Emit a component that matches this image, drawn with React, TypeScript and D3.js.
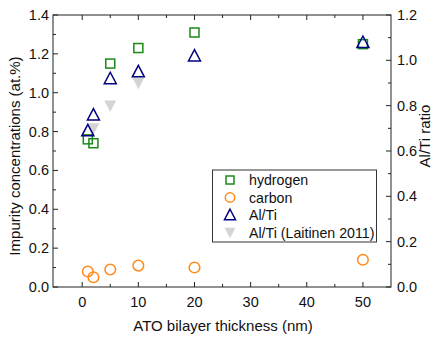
import * as d3 from "d3";

// ---- data ----
const hydrogenX = [1, 2, 5, 10, 20, 50];
const hydrogenY = [0.76, 0.74, 1.15, 1.23, 1.31, 1.25];

const carbonX = [1, 2, 5, 10, 20, 50];
const carbonY = [0.08, 0.05, 0.09, 0.11, 0.1, 0.14];

const alTiX = [1, 2, 5, 10, 20, 50];
const alTiY = [0.69, 0.76, 0.92, 0.95, 1.02, 1.08];

const laitinenX = [2, 5, 10];
const laitinenY = [0.7, 0.8, 0.9];

const xTicks = [0, 10, 20, 30, 40, 50];
const yLeftTicks = [0, 0.2, 0.4, 0.6, 0.8, 1.0, 1.2, 1.4];
const yRightTicks = [0, 0.2, 0.4, 0.6, 0.8, 1.0, 1.2];

const W = 436;
const H = 340;
const m = { left: 53, right: 45, top: 15, bottom: 53 };
const FONT = "Liberation Sans, Arial, sans-serif";

const C_H = "#1a8a1a";
const C_C = "#ff8a1a";
const C_A = "#000080";
const C_L = "#d4d4d4";

export default function App() {
  const x = d3.scaleLinear().domain([-5.2, 55]).range([m.left, W - m.right]);
  const yL = d3.scaleLinear().domain([0, 1.4]).range([H - m.bottom, m.top]);
  const yR = d3.scaleLinear().domain([0, 1.2]).range([H - m.bottom, m.top]);

  const x0 = m.left;
  const x1 = W - m.right;
  const y0 = H - m.bottom;
  const y1 = m.top;
  const axisColor = "#222";

  const xMinor = d3.range(5, 55, 10);
  const yLMinor = d3.range(0.1, 1.4, 0.2);
  const yRMinor = d3.range(0.1, 1.2, 0.2);

  const sq = 9;
  const tri = (cx: number, cy: number, s: number, up: boolean) => {
    const h = s * 0.866;
    return up
      ? `M${cx},${cy - h / 2 - 1}L${cx + s / 2},${cy + h / 2}L${cx - s / 2},${cy + h / 2}Z`
      : `M${cx},${cy + h / 2 + 1}L${cx + s / 2},${cy - h / 2}L${cx - s / 2},${cy - h / 2}Z`;
  };

  const legX = 230;
  const legTextX = 249;
  const legY = [180, 197.5, 215, 232.5];

  return (
    <div style={{ position: "absolute", left: 0, top: 0 }}>
      <svg width={W} height={H} style={{ display: "block", background: "#fff" }} fontFamily={FONT}>
        {/* frame */}
        <rect x={x0} y={y1} width={x1 - x0} height={y0 - y1} fill="none" stroke={axisColor} strokeWidth={1} />

        {/* x ticks bottom & top */}
        {xTicks.map((t) => (
          <g key={"xt" + t}>
            <line x1={x(t)} x2={x(t)} y1={y0} y2={y0 - 5} stroke={axisColor} />
            <line x1={x(t)} x2={x(t)} y1={y1} y2={y1 + 5} stroke={axisColor} />
            <text x={x(t)} y={y0 + 20} textAnchor="middle" fontSize={14.5} fill="#111">
              {t}
            </text>
          </g>
        ))}
        {xMinor.map((t) => (
          <g key={"xm" + t}>
            <line x1={x(t)} x2={x(t)} y1={y0} y2={y0 - 3} stroke={axisColor} />
            <line x1={x(t)} x2={x(t)} y1={y1} y2={y1 + 3} stroke={axisColor} />
          </g>
        ))}

        {/* left y */}
        {yLeftTicks.map((t) => (
          <g key={"yl" + t}>
            <line x1={x0} x2={x0 + 5} y1={yL(t)} y2={yL(t)} stroke={axisColor} />
            <text x={x0 - 4} y={yL(t) + 5} textAnchor="end" fontSize={14.5} fill="#111">
              {t.toFixed(1)}
            </text>
          </g>
        ))}
        {yLMinor.map((t) => (
          <line key={"ylm" + t} x1={x0} x2={x0 + 3} y1={yL(t)} y2={yL(t)} stroke={axisColor} />
        ))}

        {/* right y */}
        {yRightTicks.map((t) => (
          <g key={"yr" + t}>
            <line x1={x1} x2={x1 - 5} y1={yR(t)} y2={yR(t)} stroke={axisColor} />
            <text x={x1 + 6} y={yR(t) + 5} textAnchor="start" fontSize={14.5} fill="#111">
              {t.toFixed(1)}
            </text>
          </g>
        ))}
        {yRMinor.map((t) => (
          <line key={"yrm" + t} x1={x1} x2={x1 - 3} y1={yR(t)} y2={yR(t)} stroke={axisColor} />
        ))}

        {/* axis titles */}
        <text x={(x0 + x1) / 2 + 1} y={331} textAnchor="middle" fontSize={15} fill="#111">
          ATO bilayer thickness (nm)
        </text>
        <text
          transform={`translate(20, ${(y0 + y1) / 2 + 5}) rotate(-90)`}
          textAnchor="middle"
          fontSize={15}
          fill="#111"
        >
          Impurity concentrations (at.%)
        </text>
        <text transform={`translate(430, 136) rotate(-90)`} textAnchor="middle" fontSize={15} fill="#111">
          Al/Ti ratio
        </text>

        {/* Laitinen (right axis) */}
        {laitinenX.map((v, i) => (
          <path key={"l" + i} d={tri(x(v), yR(laitinenY[i]), 12, false)} fill={C_L} stroke="none" />
        ))}

        {/* hydrogen */}
        {hydrogenX.map((v, i) => (
          <rect
            key={"h" + i}
            x={x(v) - sq / 2}
            y={yL(hydrogenY[i]) - sq / 2}
            width={sq}
            height={sq}
            fill="none"
            stroke={C_H}
            strokeWidth={1.5}
          />
        ))}

        {/* carbon */}
        {carbonX.map((v, i) => (
          <circle key={"c" + i} cx={x(v)} cy={yL(carbonY[i])} r={5.3} fill="none" stroke={C_C} strokeWidth={1.5} />
        ))}

        {/* Al/Ti (right axis) */}
        {alTiX.map((v, i) => (
          <path key={"a" + i} d={tri(x(v), yR(alTiY[i]), 12, true)} fill="none" stroke={C_A} strokeWidth={1.5} />
        ))}

        {/* legend */}
        <rect x={212.5} y={170} width={164} height={72} fill="#fff" stroke="#333" strokeWidth={1} />
        <rect x={legX - 4} y={legY[0] - 4} width={8} height={8} fill="none" stroke={C_H} strokeWidth={1.5} />
        <circle cx={legX} cy={legY[1]} r={4.7} fill="none" stroke={C_C} strokeWidth={1.5} />
        <path d={tri(legX, legY[2], 11, true)} fill="none" stroke={C_A} strokeWidth={1.5} />
        <path d={tri(legX, legY[3], 11, false)} fill={C_L} />
        {["hydrogen", "carbon", "Al/Ti", "Al/Ti (Laitinen 2011)"].map((s, i) => (
          <text key={s} x={legTextX} y={legY[i] + 5} fontSize={14.2} fill="#111">
            {s}
          </text>
        ))}
      </svg>
    </div>
  );
}
